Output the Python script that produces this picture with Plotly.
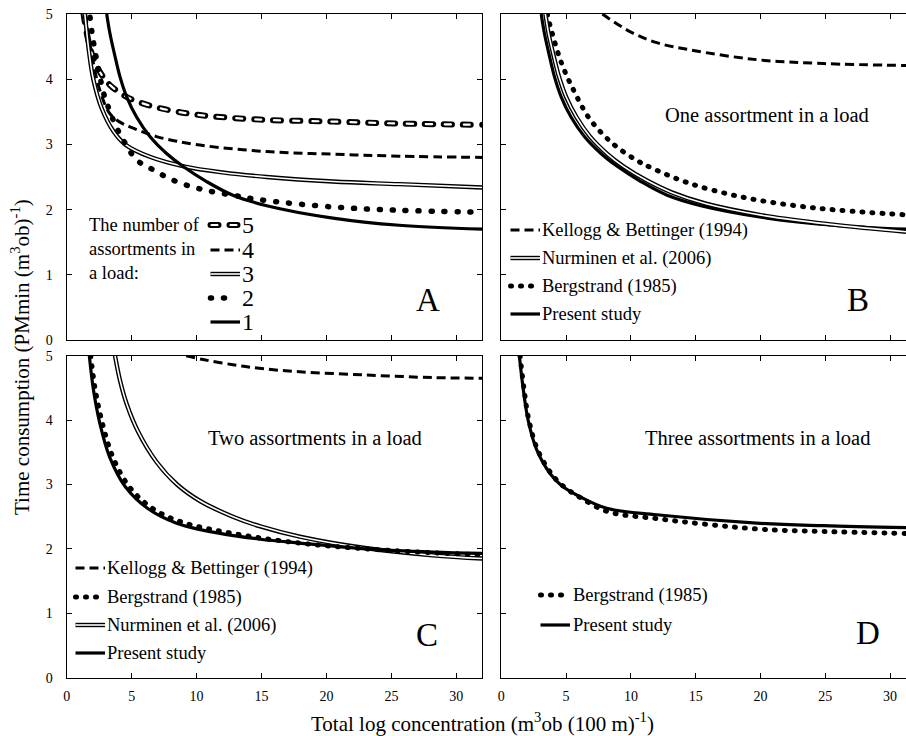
import plotly.graph_objects as go

W, H = 906, 736
FONT = "Liberation Serif, Tinos, Times New Roman, Times, DejaVu Serif, serif"

# ---------------- data ----------------
x_ticks = [0, 5, 10, 15, 20, 25, 30]
y_ticks = [0, 1, 2, 3, 4, 5]

# Panel A: number of assortments in a load
a5_x = [1.3, 1.6, 2.0, 2.56, 3.33, 4.6, 6.15, 8.0, 10.25, 14.9, 20.5, 25.6, 32.0]
a5_y = [5.0, 4.65, 4.35, 4.11, 3.91, 3.73, 3.61, 3.52, 3.45, 3.38, 3.35, 3.32, 3.30]
a4_x = [1.45, 1.75, 2.1, 2.6, 3.33, 4.2, 5.12, 6.92, 10.25, 15.4, 20.5, 25.6, 32.0]
a4_y = [5.0, 4.6, 4.2, 3.8, 3.47, 3.33, 3.25, 3.12, 2.99, 2.89, 2.85, 2.82, 2.80]
a3_x = [1.4, 1.7, 2.05, 2.7, 3.6, 4.5, 6.4, 9.1, 12.0, 15.4, 20.5, 25.6, 32.0]
a3_y = [5.0, 4.45, 4.0, 3.55, 3.2, 3.0, 2.81, 2.66, 2.57, 2.50, 2.43, 2.39, 2.34]
a2_x = [1.8, 1.95, 2.2, 2.5, 2.82, 3.08, 3.7, 4.35, 5.4, 6.66, 8.2, 10.4, 12.8, 14.9, 20.5, 25.6, 32.0]
a2_y = [4.95, 4.71, 4.41, 4.10, 3.80, 3.64, 3.32, 3.07, 2.76, 2.61, 2.45, 2.31, 2.22, 2.15, 2.04, 1.99, 1.96]
a1_x = [3.08, 3.33, 3.72, 4.10, 4.62, 5.38, 6.41, 7.69, 8.97, 10.77, 12.8, 15.4, 20.5, 25.6, 32.0]
a1_y = [5.0, 4.70, 4.35, 4.04, 3.73, 3.42, 3.12, 2.86, 2.66, 2.43, 2.22, 2.06, 1.87, 1.76, 1.70]

# Panel B: one assortment in a load
b_kel_x = [7.8, 9.93, 12.0, 14.56, 19.7, 24.85, 31.23]
b_kel_y = [5.0, 4.73, 4.56, 4.45, 4.30, 4.24, 4.21]
b_nur_x = [3.40, 3.65, 4.05, 4.45, 5.0, 5.8, 6.85, 8.15, 9.45, 11.2, 13.2, 15.8, 20.5, 25.6, 31.23]
b_nur_y = [5.0, 4.70, 4.35, 4.04, 3.73, 3.42, 3.12, 2.86, 2.66, 2.45, 2.26, 2.09, 1.90, 1.77, 1.66]
b_ber_x = [3.55, 3.89, 4.66, 5.61, 6.79, 8.44, 10.32, 11.7, 14.56, 18.4, 22.3, 26.1, 31.23]
b_ber_y = [5.0, 4.73, 4.24, 3.82, 3.40, 3.04, 2.77, 2.63, 2.40, 2.20, 2.07, 1.99, 1.92]
b_pre_x = [3.08, 3.33, 3.72, 4.10, 4.62, 5.38, 6.41, 7.69, 8.97, 10.77, 12.8, 15.4, 20.5, 25.6, 31.23]
b_pre_y = [5.0, 4.70, 4.35, 4.04, 3.73, 3.42, 3.12, 2.86, 2.66, 2.43, 2.22, 2.06, 1.87, 1.76, 1.70]

# Panel C: two assortments in a load
c_kel_x = [9.2, 10.5, 12.8, 15.0, 17.95, 23.1, 28.2, 32.0]
c_kel_y = [5.0, 4.94, 4.86, 4.80, 4.75, 4.70, 4.66, 4.65]
c_ber_x = [1.85, 2.2, 2.75, 3.55, 4.8, 6.6, 8.8, 12.8, 17.95, 23.1, 28.2, 32.0]
c_ber_y = [5.0, 4.47, 3.95, 3.43, 2.97, 2.63, 2.42, 2.24, 2.09, 2.00, 1.94, 1.91]
c_nur_x = [3.72, 4.1, 4.62, 5.5, 6.92, 8.5, 10.3, 12.8, 14.9, 17.95, 23.1, 28.2, 32.0]
c_nur_y = [5.0, 4.62, 4.25, 3.82, 3.35, 3.0, 2.74, 2.50, 2.35, 2.19, 2.01, 1.90, 1.85]
c_pre_x = [1.74, 2.06, 2.55, 3.3, 4.5, 6.3, 8.46, 11.8, 14.9, 17.95, 23.1, 28.2, 32.0]
c_pre_y = [5.0, 4.47, 3.95, 3.43, 2.97, 2.62, 2.40, 2.24, 2.15, 2.09, 2.00, 1.95, 1.93]

# Panel D: three assortments in a load
d_ber_x = [1.45, 1.76, 2.14, 2.8, 3.85, 4.75, 6.15, 8.2, 12.0, 19.7, 24.85, 31.23]
d_ber_y = [5.0, 4.47, 3.99, 3.54, 3.17, 2.98, 2.79, 2.58, 2.47, 2.31, 2.27, 2.24]
d_pre_x = [1.39, 1.70, 2.08, 2.73, 3.76, 4.66, 6.07, 8.13, 12.0, 19.7, 24.85, 31.23]
d_pre_y = [5.0, 4.47, 3.99, 3.54, 3.17, 2.98, 2.81, 2.63, 2.53, 2.40, 2.36, 2.33]

# ---------------- styles ----------------
ST = {
    "solid": [dict(color="black", width=3.2)],
    "double": [dict(color="black", width=4.4), dict(color="white", width=1.6)],
    "dash": [dict(color="black", width=3, dash="9px,5px")],
    "dot": [dict(color="black", width=5, dash="1px,9px")],
    "dotA": [dict(color="black", width=5.5, dash="1px,12px")],
    "ddash": [dict(color="black", width=6, dash="8px,11px"),
              dict(color="white", width=2.2, dash="6px,13px")],
}


def px2x(p):
    return p / W


def px2y(p):
    return 1 - p / H


fig = go.Figure()


def add(x, y, style, ax):
    for ln in ST[style]:
        fig.add_trace(go.Scatter(x=x, y=y, mode="lines", line=dict(shape="spline", **ln),
                                 xaxis="x" + ax, yaxis="y" + ax, hoverinfo="skip",
                                 showlegend=False))


add(a5_x, a5_y, "ddash", "")
add(a4_x, a4_y, "dash", "")
add(a3_x, a3_y, "double", "")
add(a2_x, a2_y, "dotA", "")
add(a1_x, a1_y, "solid", "")

add(b_kel_x, b_kel_y, "dash", "2")
add(b_ber_x, b_ber_y, "dot", "2")
add(b_pre_x, b_pre_y, "solid", "2")
add(b_nur_x, b_nur_y, "double", "2")

add(c_kel_x, c_kel_y, "dash", "3")
add(c_nur_x, c_nur_y, "double", "3")
add(c_pre_x, c_pre_y, "solid", "3")
add(c_ber_x, c_ber_y, "dot", "3")

add(d_pre_x, d_pre_y, "solid", "4")
add(d_ber_x, d_ber_y, "dot", "4")

# ---------------- axes ----------------
XL = [66.7 / W, 482.3 / W]
XR = [501.3 / W, 1.0]
YT = [px2y(340), px2y(14)]
YB = [px2y(677.7), px2y(355.7)]

tickfont = dict(family=FONT, size=14, color="black")


def xax(domain, rng, anchor, labels):
    return dict(domain=domain, range=rng, tickvals=x_ticks, ticks="inside", ticklen=5,
                tickcolor="black", tickwidth=1, showline=True, linecolor="black", linewidth=1.2,
                mirror="ticks", showgrid=False, zeroline=False, showticklabels=labels,
                tickfont=tickfont, anchor=anchor, ticklabelstandoff=5, automargin=False)


def yax(domain, anchor, labels, mirror):
    return dict(domain=domain, range=[0, 5], tickvals=y_ticks, ticks="inside", ticklen=5,
                tickcolor="black", tickwidth=1, showline=True, linecolor="black", linewidth=1.2,
                mirror=mirror, showgrid=False, zeroline=False, showticklabels=labels,
                tickfont=tickfont, anchor=anchor, ticklabelstandoff=10, automargin=False)


# ---------------- legends & labels ----------------
shapes = []
annotations = []


def sample(x0, x1, y, style):
    for ln in ST[style]:
        d = dict(type="line", xref="paper", yref="paper", x0=px2x(x0), x1=px2x(x1),
                 y0=px2y(y), y1=px2y(y), line=dict(color=ln["color"], width=ln["width"],
                                                    dash=ln.get("dash", "solid")))
        shapes.append(d)


def text(x, y, s, size, xanchor="left", angle=0):
    annotations.append(dict(x=px2x(x), y=px2y(y), xref="paper", yref="paper", text=s,
                            showarrow=False, xanchor=xanchor, yanchor="middle",
                            textangle=angle, font=dict(family=FONT, size=size, color="black")))


# Panel A legend
for i, s in enumerate(["The number of", "assortments in", "a load:"]):
    text(87, [225, 249, 273][i], s, 18.5)
for lab, sty, yy, x1 in [("5", "ddash", 225, 240), ("4", "dash", 250, 240), ("3", "double", 274, 240),
                         ("2", "dotA", 298, 236), ("1", "solid", 322, 240)]:
    sample(210.5, x1, yy, sty)
    text(240, yy, lab, 24)
text(428, 300, "A", 33, "center")

# Panel B legend
for lab, sty, yy in [("Kellogg &amp; Bettinger (1994)", "dash", 230), ("Nurminen et al. (2006)", "double", 258),
                     ("Bergstrand (1985)", "dot", 286), ("Present study", "solid", 314)]:
    sample(510.5, 540 if sty != "dot" else 533, yy, sty)
    text(540, yy, lab, 18.5)
text(767, 115, "One assortment in a load", 20.5, "center")
text(858, 300, "B", 33, "center")

# Panel C legend
for lab, sty, yy in [("Kellogg &amp; Bettinger (1994)", "dash", 568), ("Bergstrand (1985)", "dot", 597),
                     ("Nurminen et al. (2006)", "double", 625), ("Present study", "solid", 653)]:
    sample(75.5, 105 if sty != "dot" else 98, yy, sty)
    text(105, yy, lab, 18.5)
text(315, 438, "Two assortments in a load", 20.5, "center")
text(427, 635, "C", 33, "center")

# Panel D legend
for lab, sty, yy in [("Bergstrand (1985)", "dot", 595), ("Present study", "solid", 625)]:
    sample(540.5, 570 if sty != "dot" else 563, yy, sty)
    text(571, yy, lab, 18.5)
text(757, 438, "Three assortments in a load", 20.5, "center")
text(868, 633, "D", 33, "center")

# axis titles
text(482, 722, "Total log concentration (m<sup>3</sup>ob (100 m)<sup>-1</sup>)", 21, "center")
text(20, 357, "Time consumption (PMmin (m<sup>3</sup>ob)<sup>-1</sup>)", 21, "center", -90)

fig.update_layout(
    width=W, height=H, margin=dict(l=0, r=0, t=0, b=0),
    paper_bgcolor="white", plot_bgcolor="white", showlegend=False,
    font=dict(family=FONT, color="black"),
    xaxis=xax(XL, [0, 32], "y", False), yaxis=yax(YT, "x", True, "ticks"),
    xaxis2=xax(XR, [0, 31.23], "y2", False), yaxis2=yax(YT, "x2", False, False),
    xaxis3=xax(XL, [0, 32], "y3", True), yaxis3=yax(YB, "x3", True, "ticks"),
    xaxis4=xax(XR, [0, 31.23], "y4", True), yaxis4=yax(YB, "x4", False, False),
    shapes=shapes, annotations=annotations,
)

post = """
document.body.style.margin = '0';
document.body.style.padding = '0';
document.documentElement.style.overflow = 'hidden';
var gd = document.getElementById('{plot_id}');
function fixDashes(){
  gd.querySelectorAll('path').forEach(function(p){
    var d = (p.style.strokeDasharray || '').replace(/\\s/g, '');
    if (d.indexOf('1px,') === 0) { p.style.strokeLinecap = 'round'; }
    if (d === '8px,11px') { p.style.strokeLinecap = 'round'; }
    if (d === '6px,13px') { p.style.strokeLinecap = 'round'; p.style.strokeDashoffset = '-1px'; }
  });
}
fixDashes();
gd.on('plotly_afterplot', fixDashes);
"""

fig.write_html("out.html", post_script=post, config={"displayModeBar": False})
